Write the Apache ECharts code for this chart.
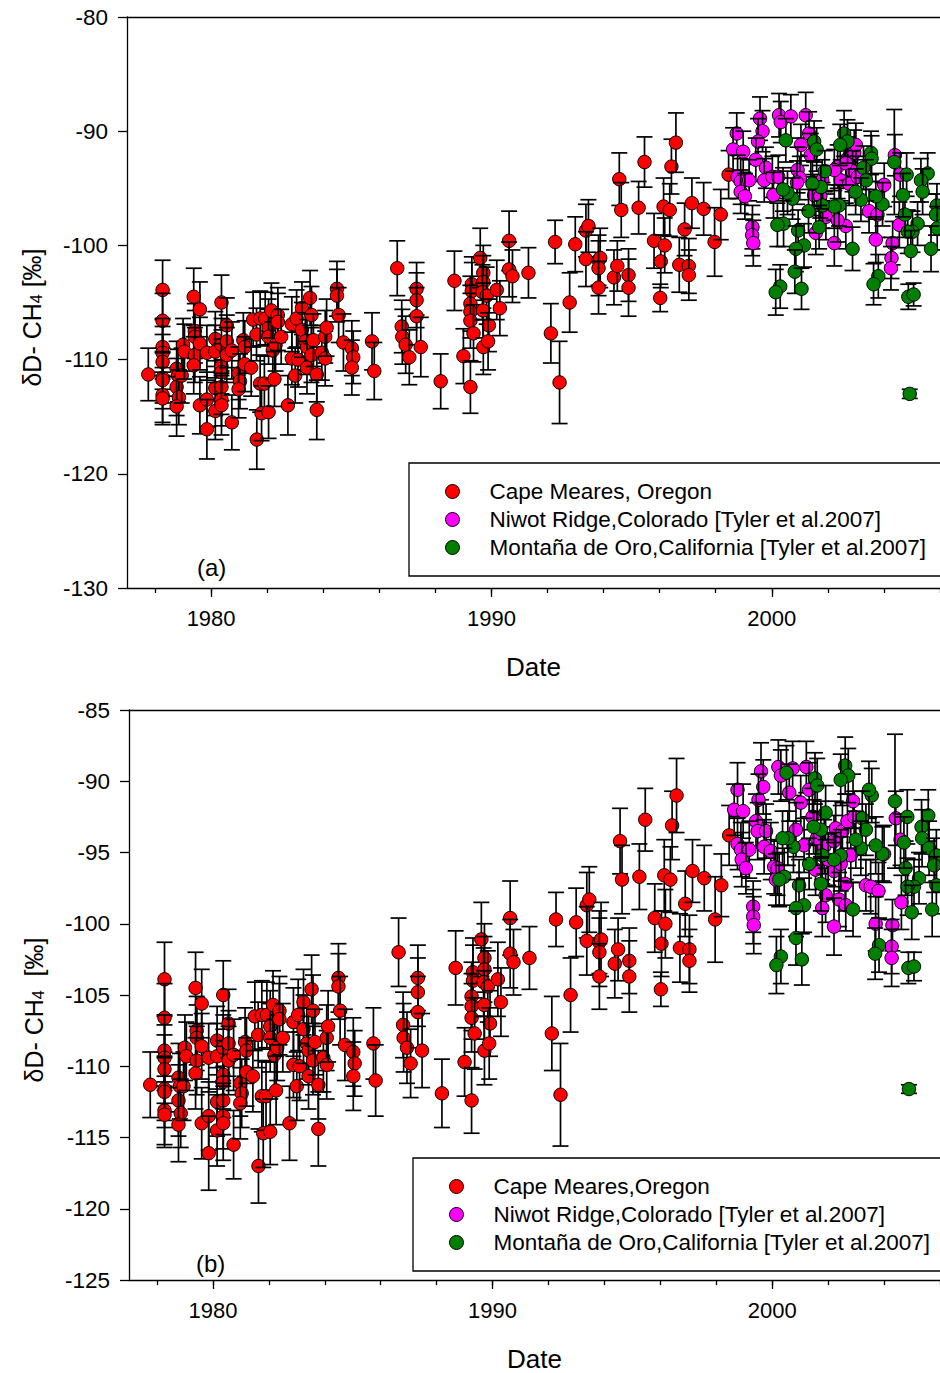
<!DOCTYPE html>
<html>
<head>
<meta charset="utf-8">
<script src="https://cdn.jsdelivr.net/npm/echarts@6/dist/echarts.min.js"></script>
<style>
  html, body { margin: 0; padding: 0; background: #fff; }
  #chart { width: 940px; height: 1373px; }
</style>
</head>
<body>
<div id="chart"></div>
<script>
// δD-CH4 records: [decimal year, δD (‰), ±1σ (‰)]
const capeMeares = [
  [1977.76,-111.3,2.3],[1978.27,-103.9,2.6],[1978.27,-106.6,2.4],[1978.27,-108.9,2.5],[1978.27,-109.4,2.3],[1978.27,-110.2,2.4],[1978.27,-111.6,2.2],[1978.27,-111.8,2.5],[1978.27,-113.1,2.4],[1978.27,-113.4,2.3],
  [1978.77,-110.8,2.4],[1978.82,-111.4,2.3],[1978.77,-112.4,2.5],[1978.85,-113.3,2.4],[1978.77,-114.1,2.6],[1978.95,-111.4,2.4],[1979.00,-108.7,2.3],[1979.05,-109.3,2.4],[1979.38,-104.5,2.5],[1979.42,-107.5,2.4],
  [1979.42,-108.0,2.3],[1979.42,-109.6,2.4],[1979.38,-110.5,2.5],[1979.60,-105.6,2.4],[1979.60,-108.6,2.3],[1979.85,-109.4,2.4],[1979.60,-114.0,2.5],[1979.85,-113.5,2.4],[1979.85,-116.1,2.6],[1980.15,-108.2,2.4],
  [1980.15,-109.3,2.3],[1980.15,-112.5,2.4],[1980.15,-114.5,2.5],[1980.37,-105.0,2.4],[1980.37,-108.7,2.3],[1980.37,-110.6,2.4],[1980.37,-111.1,2.5],[1980.37,-112.4,2.4],[1980.37,-113.5,2.3],[1980.37,-114.0,2.6],
  [1980.56,-107.0,2.4],[1980.56,-108.4,2.3],[1980.56,-109.6,2.4],[1980.74,-109.2,2.5],[1980.74,-115.5,2.4],[1980.98,-111.2,2.3],[1981.03,-111.9,2.4],[1980.98,-112.6,2.5],[1981.15,-108.3,2.4],[1981.20,-108.9,2.3],
  [1981.20,-110.4,2.4],[1981.43,-110.7,2.5],[1981.50,-106.5,2.4],[1981.62,-107.8,2.3],[1981.63,-117.0,2.6],[1981.75,-106.4,2.4],[1981.75,-112.1,2.5],[1981.80,-114.7,2.4],[1981.93,-106.4,2.3],[1981.90,-112.1,2.4],
  [1982.05,-107.2,2.5],[1982.05,-108.0,2.4],[1982.05,-114.6,2.3],[1982.15,-105.7,2.4],[1982.20,-109.2,2.5],[1982.26,-111.7,2.4],[1982.30,-108.7,2.3],[1982.38,-106.1,2.4],[1982.38,-106.7,2.5],[1982.50,-108.0,2.4],
  [1982.74,-114.0,2.6],[1982.88,-106.9,2.4],[1982.88,-109.9,2.3],[1983.00,-111.4,2.4],[1983.05,-106.4,2.5],[1983.10,-110.0,2.4],[1983.24,-105.5,2.3],[1983.24,-107.4,2.4],[1983.36,-108.4,2.5],[1983.42,-108.9,2.4],
  [1983.42,-110.7,2.3],[1983.53,-104.6,2.4],[1983.58,-106.1,2.5],[1983.58,-109.6,2.4],[1983.65,-108.3,2.3],[1983.77,-111.3,2.4],[1983.77,-114.4,2.6],[1983.95,-109.4,2.4],[1984.07,-108.0,2.3],[1984.07,-109.9,2.4],
  [1984.12,-107.2,2.5],[1984.49,-103.8,2.4],[1984.49,-104.4,2.3],[1984.55,-106.1,2.4],[1984.72,-108.5,2.5],[1985.02,-109.0,2.4],[1985.07,-109.8,2.3],[1985.02,-110.7,2.4],[1985.74,-108.4,2.5],[1985.82,-111.0,2.5],
  [1986.64,-102.0,2.4],[1986.80,-107.1,2.3],[1986.82,-108.0,2.4],[1986.94,-108.7,2.5],[1987.07,-109.8,2.4],[1987.33,-103.8,2.3],[1987.33,-104.8,2.4],[1987.33,-106.2,2.5],[1987.48,-108.9,2.6],[1988.19,-111.9,2.4],
  [1988.68,-103.1,2.6],[1989.00,-109.7,2.4],[1989.25,-112.4,2.3],[1989.30,-103.4,2.4],[1989.30,-104.0,2.5],[1989.25,-105.1,2.4],[1989.25,-105.8,2.3],[1989.25,-106.6,2.4],[1989.36,-107.7,2.5],[1989.60,-101.1,2.6],
  [1989.71,-102.4,2.4],[1989.71,-103.2,2.3],[1989.68,-104.1,2.4],[1989.83,-104.4,2.5],[1989.70,-105.7,2.4],[1989.91,-107.0,2.3],[1989.71,-108.9,2.4],[1989.88,-108.4,2.5],[1990.19,-103.9,2.6],[1990.30,-105.5,2.4],
  [1990.63,-99.6,2.6],[1990.63,-102.1,2.4],[1990.75,-102.7,2.3],[1991.32,-102.4,2.2],[1992.12,-107.7,2.6],[1992.27,-99.7,1.9],[1992.43,-112.0,3.6],[1992.79,-105.0,2.6],[1992.99,-99.9,2.4],[1993.37,-98.7,2.3],
  [1993.46,-98.3,2.3],[1993.37,-101.2,2.4],[1993.82,-101.3,2.2],[1993.88,-101.1,2.6],[1993.82,-102.0,2.4],[1993.82,-103.7,2.3],[1994.37,-102.8,2.4],[1994.49,-101.8,2.2],[1994.89,-102.6,2.3],[1994.89,-103.7,2.5],
  [1994.56,-94.2,2.3],[1994.63,-96.9,2.4],[1995.25,-96.7,2.3],[1995.46,-92.7,2.2],[1995.80,-99.6,2.4],[1996.04,-101.4,2.3],[1996.02,-104.6,1.2],[1996.18,-100.0,2.4],[1996.14,-96.6,2.5],[1996.36,-96.9,2.3],
  [1996.42,-93.1,2.4],[1996.58,-91.0,2.6],[1996.70,-101.7,2.4],[1996.89,-98.6,2.3],[1997.04,-101.8,2.4],[1997.04,-102.6,2.2],[1997.15,-96.3,2.2],[1997.57,-96.8,2.3],[1997.96,-99.7,3.0],[1998.18,-97.3,2.2],
  [1998.46,-93.8,2.1]
];

// Niwot Ridge and Montaña de Oro, panel (a)
const niwotA = [
  [1998.75,-90.2,1.8],[1998.62,-91.6,1.9],[1998.98,-91.8,1.8],[1999.58,-88.9,1.9],[1999.67,-90.0,1.8],[1999.51,-90.9,2.0],[1999.43,-92.5,1.9],[1999.79,-93.2,1.8],[1998.78,-94.0,1.9],[1998.89,-94.4,2.0],
  [1999.19,-94.3,1.8],[1998.89,-95.3,1.9],[1999.04,-95.7,2.0],[1999.73,-94.3,1.9],[2000.02,-94.0,1.8],[2000.23,-94.0,1.9],[2000.06,-95.6,2.0],[1999.31,-98.4,1.9],[1999.30,-99.1,1.8],[1999.34,-99.8,2.0],
  [2000.26,-88.6,1.9],[2000.32,-89.2,1.8],[2000.68,-88.7,1.9],[2001.21,-88.6,2.0],[2001.33,-90.2,1.9],[2001.04,-91.2,1.8],[2001.39,-92.1,1.9],[2000.92,-93.4,2.0],[2001.00,-94.1,1.9],[2001.51,-95.6,1.8],
  [2001.93,-97.5,2.0],[2001.57,-98.9,1.9],[2002.23,-99.8,2.0],[2002.35,-93.1,1.9],[2002.46,-94.3,1.8],[2002.70,-92.4,1.9],[2002.94,-91.9,2.0],[2003.00,-91.2,1.9],[2002.88,-93.5,1.8],[2002.76,-94.6,1.9],
  [2002.64,-98.3,2.0],[2002.35,-97.8,1.9],[2003.06,-94.0,1.8],[2003.47,-97.0,1.9],[2003.77,-97.3,2.0],[2004.01,-94.7,1.9],[2003.71,-99.5,2.0],[2004.31,-99.8,1.9],[2004.27,-101.1,1.8],[2004.25,-102.0,1.9],
  [2004.39,-92.1,1.8],[2004.58,-93.8,1.9],[2004.55,-98.2,2.0],[2001.73,-95.7,1.9],[2002.23,-93.4,1.8],[2002.64,-92.8,1.9],[2000.90,-94.5,1.9],[2001.80,-94.3,1.8]
];
const moroA = [
  [2000.50,-90.8,1.9],[2001.51,-90.9,1.8],[2001.60,-91.6,1.9],[2002.58,-90.2,2.0],[2002.70,-90.9,1.9],[2002.44,-91.2,1.8],[2003.54,-91.9,1.9],[2003.56,-92.4,2.0],[2004.37,-92.7,4.6],[2004.81,-93.8,1.9],
  [2005.56,-93.7,1.8],[2005.32,-94.3,1.9],[2005.38,-95.3,2.0],[2005.89,-96.5,1.9],[2005.86,-97.3,1.8],[2005.90,-98.5,1.9],[2005.68,-100.3,2.0],[2005.20,-98.1,1.9],[2005.02,-98.8,1.8],[2004.85,-98.8,1.9],
  [2004.75,-97.3,2.0],[2004.68,-95.6,1.9],[2004.96,-100.5,1.8],[2004.87,-104.5,1.1],[2005.06,-104.3,1.0],[2003.80,-102.7,1.9],[2003.63,-103.4,1.8],[2003.95,-96.4,1.9],[2003.71,-95.7,2.0],[2003.27,-93.2,1.9],
  [2003.36,-94.3,1.8],[2003.18,-96.0,1.9],[2002.99,-95.3,2.0],[2002.88,-100.3,1.9],[2002.40,-96.5,1.8],[2002.23,-96.6,1.9],[2001.81,-96.5,2.0],[2001.69,-98.4,1.9],[2001.89,-93.5,1.8],[2001.75,-94.9,1.9],
  [2001.45,-94.6,2.0],[2001.31,-97.0,1.9],[2000.74,-95.9,1.8],[2000.56,-95.4,1.9],[2000.42,-98.1,2.0],[2000.20,-98.2,1.9],[2000.94,-98.7,1.8],[2001.15,-100.0,1.9],[2000.86,-100.3,2.0],[2000.82,-102.3,1.9],
  [2001.06,-103.8,1.8],[2000.30,-103.6,1.9],[2000.14,-104.1,2.0],[2000.40,-95.1,1.9],[2004.92,-113.0,0.4]
];

// Niwot Ridge and Montaña de Oro, panel (b)
const niwotB = [
  [1998.76,-90.6,1.9],[1998.64,-92.0,1.8],[1998.96,-92.1,1.9],[1999.60,-89.3,2.0],[1999.68,-90.4,1.9],[1999.51,-91.3,1.8],[1999.42,-92.8,1.9],[1999.48,-93.5,2.0],[1999.78,-93.5,1.9],[1998.76,-94.4,1.8],
  [1998.88,-94.8,1.9],[1999.18,-94.8,2.0],[1998.91,-95.5,1.9],[1999.06,-96.1,1.8],[1999.71,-94.6,1.9],[1999.95,-94.9,2.0],[2000.07,-96.0,1.9],[1999.32,-98.8,1.8],[1999.32,-99.5,1.9],[1999.34,-100.1,2.0],
  [2000.22,-89.0,1.9],[2000.31,-89.6,1.8],[2000.73,-89.1,1.9],[2000.61,-90.8,2.0],[2001.02,-91.5,1.9],[2001.22,-89.0,1.8],[2001.32,-90.6,1.9],[2001.44,-92.5,2.0],[2001.14,-94.5,1.9],[2001.55,-96.2,1.8],
  [2001.91,-98.0,1.9],[2001.79,-98.9,2.0],[2001.86,-94.6,1.9],[2002.21,-94.2,1.8],[2002.27,-93.3,1.9],[2002.51,-93.5,2.0],[2002.69,-92.8,1.9],[2002.93,-92.5,1.8],[2002.89,-91.4,1.9],[2002.21,-96.3,2.0],
  [2002.39,-98.3,1.9],[2002.63,-98.7,1.8],[2002.61,-97.2,1.9],[2002.21,-100.2,2.0],[2002.81,-95.2,1.9],[2003.35,-97.3,1.8],[2003.52,-97.4,1.9],[2003.80,-97.7,2.0],[2003.70,-100.0,1.9],[2004.30,-100.1,1.8],
  [2004.27,-101.6,1.9],[2004.27,-102.4,2.0],[2004.42,-92.6,1.9],[2004.59,-94.1,1.8],[2004.62,-98.5,1.9],[2004.00,-95.1,2.0],[2000.19,-96.1,1.9],[2000.13,-96.9,1.8],[2000.85,-93.4,1.9],[2001.60,-94.0,1.9],
  [2002.00,-95.5,1.8],[2002.45,-95.8,1.9]
];
const moroB = [
  [2000.51,-89.4,1.9],[2001.53,-89.8,1.8],[2001.61,-90.3,1.9],[2002.61,-88.9,2.0],[2002.72,-89.6,1.9],[2002.45,-89.9,1.8],[2003.56,-91.0,1.9],[2003.46,-90.6,2.0],[2004.39,-91.4,4.7],[2004.83,-92.5,1.9],
  [2005.58,-92.4,1.8],[2005.34,-93.2,1.9],[2005.36,-94.0,2.0],[2005.61,-94.7,1.9],[2005.87,-95.2,1.8],[2005.79,-95.9,1.9],[2005.87,-97.3,2.0],[2005.72,-99.0,1.9],[2005.25,-96.8,1.8],[2005.07,-97.4,1.9],
  [2004.84,-97.4,2.0],[2004.77,-96.1,1.9],[2004.71,-94.3,1.8],[2004.99,-99.2,1.9],[2004.87,-103.1,1.1],[2005.07,-103.0,1.0],[2003.82,-101.5,1.9],[2003.68,-102.1,1.8],[2003.94,-95.1,1.9],[2003.70,-94.5,2.0],
  [2003.22,-92.6,1.9],[2003.35,-93.4,1.8],[2003.17,-94.7,1.9],[2002.99,-94.1,2.0],[2002.89,-99.0,1.9],[2002.45,-95.2,1.8],[2002.21,-95.5,1.9],[2001.79,-95.2,2.0],[2001.74,-97.2,1.9],[2001.32,-95.8,1.8],
  [2001.91,-92.2,1.9],[2001.74,-93.4,2.0],[2001.48,-93.2,1.9],[2000.76,-94.6,1.8],[2000.56,-94.0,1.9],[2000.43,-96.7,2.0],[2000.25,-96.9,1.9],[2000.96,-97.3,1.8],[2001.14,-98.7,1.9],[2000.85,-98.9,2.0],
  [2000.85,-101.0,1.9],[2001.06,-102.5,1.8],[2000.31,-102.3,1.9],[2000.15,-102.9,2.0],[2000.37,-94.0,1.9],[2004.89,-111.6,0.3]
];

const xMajorTicks = [1980, 1990, 2000];
const xMinorTicks = [1978, 1980, 1982, 1984, 1986, 1988, 1990, 1992, 1994, 1996, 1998, 2000, 2002, 2004, 2006];

const nameCape = ['Cape Meares, Oregon', 'Cape Meares,Oregon'];
const nameNiwot = 'Niwot Ridge,Colorado [Tyler et al.2007]';
const nameMoro = 'Montaña de Oro,California [Tyler et al.2007]';

const RED = '#ff0000', MAGENTA = '#ff00ff', GREEN = '#007f00';
const FONT = 'Liberation Sans, Arial, sans-serif';

// one error bar + marker per record, drawn in data order
function renderRecord(params, api) {
  const x = api.value(0), y = api.value(1), e = api.value(2);
  const c = api.coord([x, y]);
  const hi = api.coord([x, y + e])[1];
  const lo = api.coord([x, y - e])[1];
  const cap = 8;
  const ls = { stroke: '#000', lineWidth: 1.7 };
  return {
    type: 'group',
    children: [
      { type: 'line', shape: { x1: c[0], y1: hi, x2: c[0], y2: lo }, style: ls },
      { type: 'line', shape: { x1: c[0] - cap, y1: hi, x2: c[0] + cap, y2: hi }, style: ls },
      { type: 'line', shape: { x1: c[0] - cap, y1: lo, x2: c[0] + cap, y2: lo }, style: ls },
      { type: 'circle', shape: { cx: c[0], cy: c[1], r: 6.7 },
        style: { fill: api.visual('color'), stroke: '#000', lineWidth: 1 } }
    ]
  };
}

function recordSeries(name, data, color, panel) {
  return {
    type: 'custom', name: name,
    xAxisIndex: panel * 3, yAxisIndex: panel,
    renderItem: renderRecord,
    encode: { x: 0, y: 1 },
    itemStyle: { color: color, borderColor: '#000', borderWidth: 1 },
    data: data,
    clip: false,
    silent: true
  };
}

const axisLine = { show: true, onZero: false, lineStyle: { color: '#000', width: 1.3 } };
const tickLine = { color: '#000', width: 1.3 };

function xAxesFor(panel) {
  return [
    { gridIndex: panel, type: 'value', min: 1977, max: 2006, position: 'bottom',
      axisLine: axisLine,
      axisTick: { show: true, customValues: xMajorTicks, length: 9, lineStyle: tickLine },
      axisLabel: { customValues: xMajorTicks, formatter: v => String(v),
        fontSize: 22, color: '#000', fontFamily: FONT, margin: 19 },
      splitLine: { show: false },
      name: 'Date', nameLocation: 'middle', nameGap: 66,
      nameTextStyle: { fontSize: 26, color: '#000', fontFamily: FONT } },
    { gridIndex: panel, type: 'value', min: 1977, max: 2006, position: 'bottom',
      axisLine: { show: false },
      axisTick: { show: true, customValues: xMinorTicks, length: 5, lineStyle: tickLine },
      axisLabel: { show: false }, splitLine: { show: false } },
    { gridIndex: panel, type: 'value', min: 1977, max: 2006, position: 'top',
      axisLine: axisLine, axisTick: { show: false }, axisLabel: { show: false }, splitLine: { show: false } }
  ];
}

function yAxisFor(panel, min, max, interval, title) {
  return {
    gridIndex: panel, type: 'value', min: min, max: max, interval: interval, position: 'left',
    axisLine: axisLine,
    axisTick: { show: true, length: 9, lineStyle: tickLine },
    axisLabel: { fontSize: 22.5, color: '#000', fontFamily: FONT, margin: 19 },
    splitLine: { show: false },
    name: title, nameLocation: 'middle', nameGap: 83, nameRotate: 90,
    nameTextStyle: {
      color: '#000', fontFamily: FONT, padding: [0, 30, 0, 0],
      rich: {
        a: { fontSize: 25, color: '#000', fontFamily: FONT, lineHeight: 28, verticalAlign: 'bottom' },
        s: { fontSize: 16, color: '#000', fontFamily: FONT, lineHeight: 16, verticalAlign: 'bottom' }
      }
    }
  };
}

function legendFor(left, top, names) {
  return {
    left: left, top: top, orient: 'vertical',
    data: names.map(n => ({ name: n, icon: 'circle' })),
    itemWidth: 14, itemHeight: 14, itemGap: 5,
    padding: [17, 400, 17, 36],
    borderColor: '#000', borderWidth: 1.3, backgroundColor: '#fff',
    itemStyle: { borderColor: '#000', borderWidth: 1 },
    textStyle: { fontSize: 22.5, color: '#000', fontFamily: FONT, lineHeight: 22, padding: [0, 0, 0, 25] },
    selectedMode: false
  };
}

const chart = echarts.init(document.getElementById('chart'), null, { renderer: 'svg' });
chart.setOption({
  animation: false,
  backgroundColor: '#fff',
  grid: [
    { left: 127, top: 17, width: 813, height: 571 },
    { left: 129, top: 710, width: 813, height: 570 }
  ],
  xAxis: [...xAxesFor(0), ...xAxesFor(1)],
  yAxis: [
    yAxisFor(0, -130, -80, 10, '{a|δD- CH}{s|4}{a| [‰]}'),
    yAxisFor(1, -125, -85, 5, '{a|δD- CH}{s|4}{a|  [‰]}')
  ],
  legend: [
    legendFor(409, 463, [nameCape[0], nameNiwot, nameMoro]),
    legendFor(413, 1158, [nameCape[1], nameNiwot, nameMoro])
  ],
  graphic: [
    { type: 'text', left: 197, top: 555, style: { text: '(a)', fontSize: 24, fill: '#000', fontFamily: FONT } },
    { type: 'text', left: 196, top: 1251, style: { text: '(b)', fontSize: 24, fill: '#000', fontFamily: FONT } }
  ],
  series: [
    recordSeries(nameCape[0], capeMeares, RED, 0),
    recordSeries(nameNiwot, niwotA, MAGENTA, 0),
    recordSeries(nameMoro, moroA, GREEN, 0),
    recordSeries(nameCape[1], capeMeares, RED, 1),
    recordSeries(nameNiwot, niwotB, MAGENTA, 1),
    recordSeries(nameMoro, moroB, GREEN, 1)
  ]
});
</script>
</body>
</html>
